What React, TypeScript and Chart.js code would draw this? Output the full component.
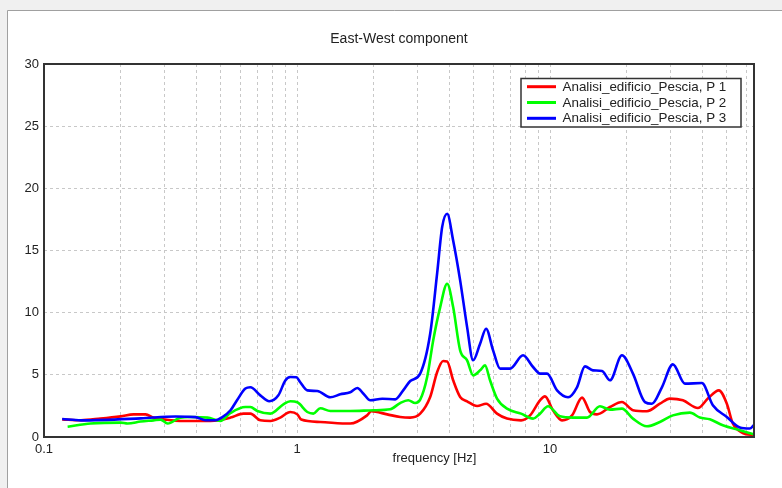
import React, { useEffect, useRef } from "react";
import { Chart, registerables } from "chart.js";

Chart.register(...registerables);

const chartTitle = "East-West component";
const xAxisTitle = "frequency [Hz]";
const seriesLabels = [
  "Analisi_edificio_Pescia, P 1",
  "Analisi_edificio_Pescia, P 2",
  "Analisi_edificio_Pescia, P 3",
];
const seriesColors = ["#ff0000", "#00ff00", "#0000ff"];

const freqP1 = [0.118,0.140,0.167,0.201,0.226,0.252,0.271,0.302,0.346,0.415,0.485,0.546,0.614,0.654,0.716,0.785,0.859,0.941,1.003,1.039,1.236,1.623,1.892,1.963,2.273,2.557,2.802,3.068,3.360,3.581,3.782,3.921,4.141,4.413,4.702,5.149,5.589,6.173,6.761,7.682,8.340,9.130,9.55,10.27,11.15,12.22,13.38,14.39,15.33,17.26,19.24,21.27,24.15,27.18,29.76,33.51,38.39,42.05,46.48,49.98,52.79,57.81,63.88];
const ampP1 = [1.42,1.35,1.48,1.66,1.82,1.82,1.56,1.4,1.29,1.29,1.34,1.56,1.88,1.88,1.34,1.29,1.56,2.01,1.82,1.4,1.21,1.08,1.74,2.07,1.82,1.61,1.56,1.88,3.22,5.23,6.11,6.08,4.56,3.22,2.87,2.49,2.68,1.88,1.48,1.34,1.74,2.95,3.27,2.15,1.34,1.74,3.17,2.01,1.82,2.41,2.81,2.15,2.07,2.68,3.09,2.95,2.33,3.09,3.75,2.68,1.08,0.32,0.14];

const freqP2 = [0.124,0.153,0.201,0.214,0.241,0.271,0.289,0.308,0.346,0.379,0.443,0.498,0.546,0.625,0.654,0.697,0.785,0.883,0.941,1.003,1.098,1.160,1.236,1.354,1.623,2.001,2.336,2.557,2.751,2.931,3.068,3.269,3.453,3.681,3.921,4.141,4.413,4.702,4.966,5.292,5.535,5.793,6.173,6.761,7.682,8.569,9.130,9.82,10.95,12.32,14.00,15.75,17.26,19.24,21.27,24.15,27.18,30.59,35.72,39.10,42.82,48.19,56.24,63.88];
const ampP2 = [0.83,1.08,1.16,1.08,1.24,1.34,1.4,1.08,1.56,1.61,1.56,1.29,1.93,2.41,2.41,2.09,1.88,2.63,2.87,2.79,2.01,1.88,2.31,2.09,2.09,2.15,2.23,2.73,2.95,2.73,3.0,4.82,7.77,10.45,12.33,10.45,6.97,6.17,4.96,5.36,5.76,4.56,3.09,2.28,1.88,1.48,1.88,2.47,1.66,1.56,1.56,2.47,2.2,2.28,1.48,0.86,1.21,1.74,1.96,1.56,1.42,0.94,0.54,0.22];

const freqP3 = [0.118,0.140,0.241,0.331,0.397,0.435,0.476,0.507,0.546,0.581,0.625,0.654,0.716,0.777,0.844,0.899,0.941,0.994,1.030,1.098,1.203,1.354,1.483,1.623,1.731,1.827,1.948,2.172,2.444,2.628,2.802,3.068,3.360,3.581,3.748,3.921,4.141,4.413,4.702,4.966,5.292,5.589,5.956,6.348,6.950,7.823,8.569,9.130,9.732,10.66,11.78,12.78,13.74,14.78,16.05,17.26,19.24,21.27,23.72,25.28,27.68,30.59,34.13,39.82,44.01,49.98,56.24,61.60,63.88];
const ampP3 = [1.45,1.34,1.5,1.65,1.6,1.35,1.35,1.6,2.15,3.0,3.9,4.0,3.35,2.87,3.35,4.55,4.82,4.8,4.4,3.75,3.7,3.2,3.43,3.6,3.94,3.5,2.95,3.08,3.03,3.75,4.5,5.1,8.3,13.2,16.9,17.95,15.8,12.6,8.84,6.17,7.5,8.71,6.97,5.5,5.5,6.57,5.63,5.1,5.1,3.75,3.2,4.0,5.68,5.36,5.3,4.56,6.57,5.1,2.81,2.68,4.0,5.84,4.29,4.34,2.55,1.61,0.76,0.68,0.94];

const xTickValues = [0.1,0.2,0.3,0.4,0.5,0.6,0.7,0.8,0.9,1,2,3,4,5,6,7,8,9,10,20,30,40,50,60];
const xLabelledTicks = [0.1, 1, 10];
const xMin = 0.1;
const xMax = 64;
const yMin = 0;
const yMax = 30;
const yStep = 5;

const FONT = '"Liberation Sans", Arial, sans-serif';

const decorPlugin = {
  id: "decor",
  beforeDraw(chart: any) {
    const ctx = chart.ctx;
    const w = chart.width, h = chart.height;
    ctx.save();
    ctx.fillStyle = "#f0f0f0";
    ctx.fillRect(0, 0, w, h);
    ctx.fillStyle = "#ffffff";
    ctx.fillRect(8, 11, w - 8, h - 11);
    ctx.strokeStyle = "#a0a0a0";
    ctx.lineWidth = 1;
    ctx.beginPath();
    ctx.moveTo(7.5, h);
    ctx.lineTo(7.5, 10.5);
    ctx.lineTo(w, 10.5);
    ctx.stroke();
    ctx.fillStyle = "#222";
    ctx.font = `14px ${FONT}`;
    ctx.textAlign = "center";
    ctx.textBaseline = "alphabetic";
    const a = chart.chartArea;
    ctx.fillText(chartTitle, (a.left + a.right) / 2, 43);
    ctx.font = `13px ${FONT}`;
    ctx.textBaseline = "middle";
    ctx.fillText(xAxisTitle, 434.5, 458);
    ctx.restore();
  },
  beforeDatasetsDraw(chart: any) {
    const ctx = chart.ctx;
    const a = chart.chartArea;
    ctx.save();
    ctx.strokeStyle = "#333";
    ctx.lineWidth = 2;
    ctx.strokeRect(a.left, a.top, a.right - a.left, a.bottom - a.top);
    ctx.restore();
  },
  afterDatasetsDraw(chart: any) {
    const ctx = chart.ctx;
    const a = chart.chartArea;
    ctx.save();
    // re-stroke frame over lines
    ctx.strokeStyle = "#333";
    ctx.lineWidth = 2;
    ctx.strokeRect(a.left, a.top, a.right - a.left, a.bottom - a.top);
    const x0 = 521, y0 = 78.5, bw = 220, bh = 48.5;
    ctx.fillStyle = "#fff";
    ctx.fillRect(x0, y0, bw, bh);
    ctx.strokeStyle = "#333";
    ctx.lineWidth = 1.5;
    ctx.strokeRect(x0, y0, bw, bh);
    chart.data.datasets.forEach((ds: any, i: number) => {
      const y = 86.7 + i * 15.8;
      ctx.strokeStyle = ds.borderColor;
      ctx.lineWidth = 3;
      ctx.beginPath();
      ctx.moveTo(527, y);
      ctx.lineTo(556, y);
      ctx.stroke();
      ctx.fillStyle = "#222";
      ctx.font = `13.4px ${FONT}`;
      ctx.textAlign = "left";
      ctx.textBaseline = "middle";
      ctx.fillText(ds.label, 562.5, y + 0.5);
    });
    ctx.restore();
  },
};

export default function App() {
  const ref = useRef<HTMLCanvasElement | null>(null);

  useEffect(() => {
    if (!ref.current) return;
    const mk = (f: number[], v: number[]) => f.map((x, i) => ({ x, y: v[i] }));
    const series = [mk(freqP1, ampP1), mk(freqP2, ampP2), mk(freqP3, ampP3)];
    const chart = new Chart(ref.current, {
      type: "line",
      data: {
        datasets: series.map((d, i) => ({
          label: seriesLabels[i],
          data: d,
          borderColor: seriesColors[i],
          backgroundColor: seriesColors[i],
          borderWidth: 2.6,
          pointRadius: 0,
          fill: false,
          cubicInterpolationMode: "monotone" as const,
          order: 2 - i,
        })),
      },
      options: {
        animation: false,
        responsive: false,
        devicePixelRatio: 1,
        layout: { padding: { top: 64, left: 0, right: 28, bottom: 0 } },
        plugins: { legend: { display: false }, title: { display: false }, tooltip: { enabled: false } },
        scales: {
          x: {
            type: "logarithmic",
            min: xMin,
            max: xMax,
            afterBuildTicks(scale: any) {
              scale.ticks = xTickValues.map((v) => ({ value: v }));
            },
            afterFit(scale: any) {
              scale.height = 51;
            },
            grid: { color: "#c8c8c8", lineWidth: 1, drawTicks: false },
            border: { display: false, dash: [3, 3] },
            ticks: {
              autoSkip: false,
              maxRotation: 0,
              padding: 5,
              color: "#222",
              font: { family: FONT, size: 13 },
              callback: (value: any) => (xLabelledTicks.includes(Number(value)) ? String(value) : ""),
            },
          },
          y: {
            min: yMin,
            max: yMax,
            afterFit(scale: any) {
              scale.width = 44;
            },
            grid: { color: "#c8c8c8", lineWidth: 1, drawTicks: false },
            border: { display: false, dash: [3, 3] },
            ticks: {
              stepSize: yStep,
              padding: 5,
              color: "#222",
              font: { family: FONT, size: 13 },
            },
          },
        },
      },
      plugins: [decorPlugin],
    });
    return () => chart.destroy();
  }, []);

  return (
    <div style={{ position: "absolute", left: 0, top: 0, width: 782, height: 488 }}>
      <canvas ref={ref} width={782} height={488} style={{ display: "block" }} />
    </div>
  );
}
